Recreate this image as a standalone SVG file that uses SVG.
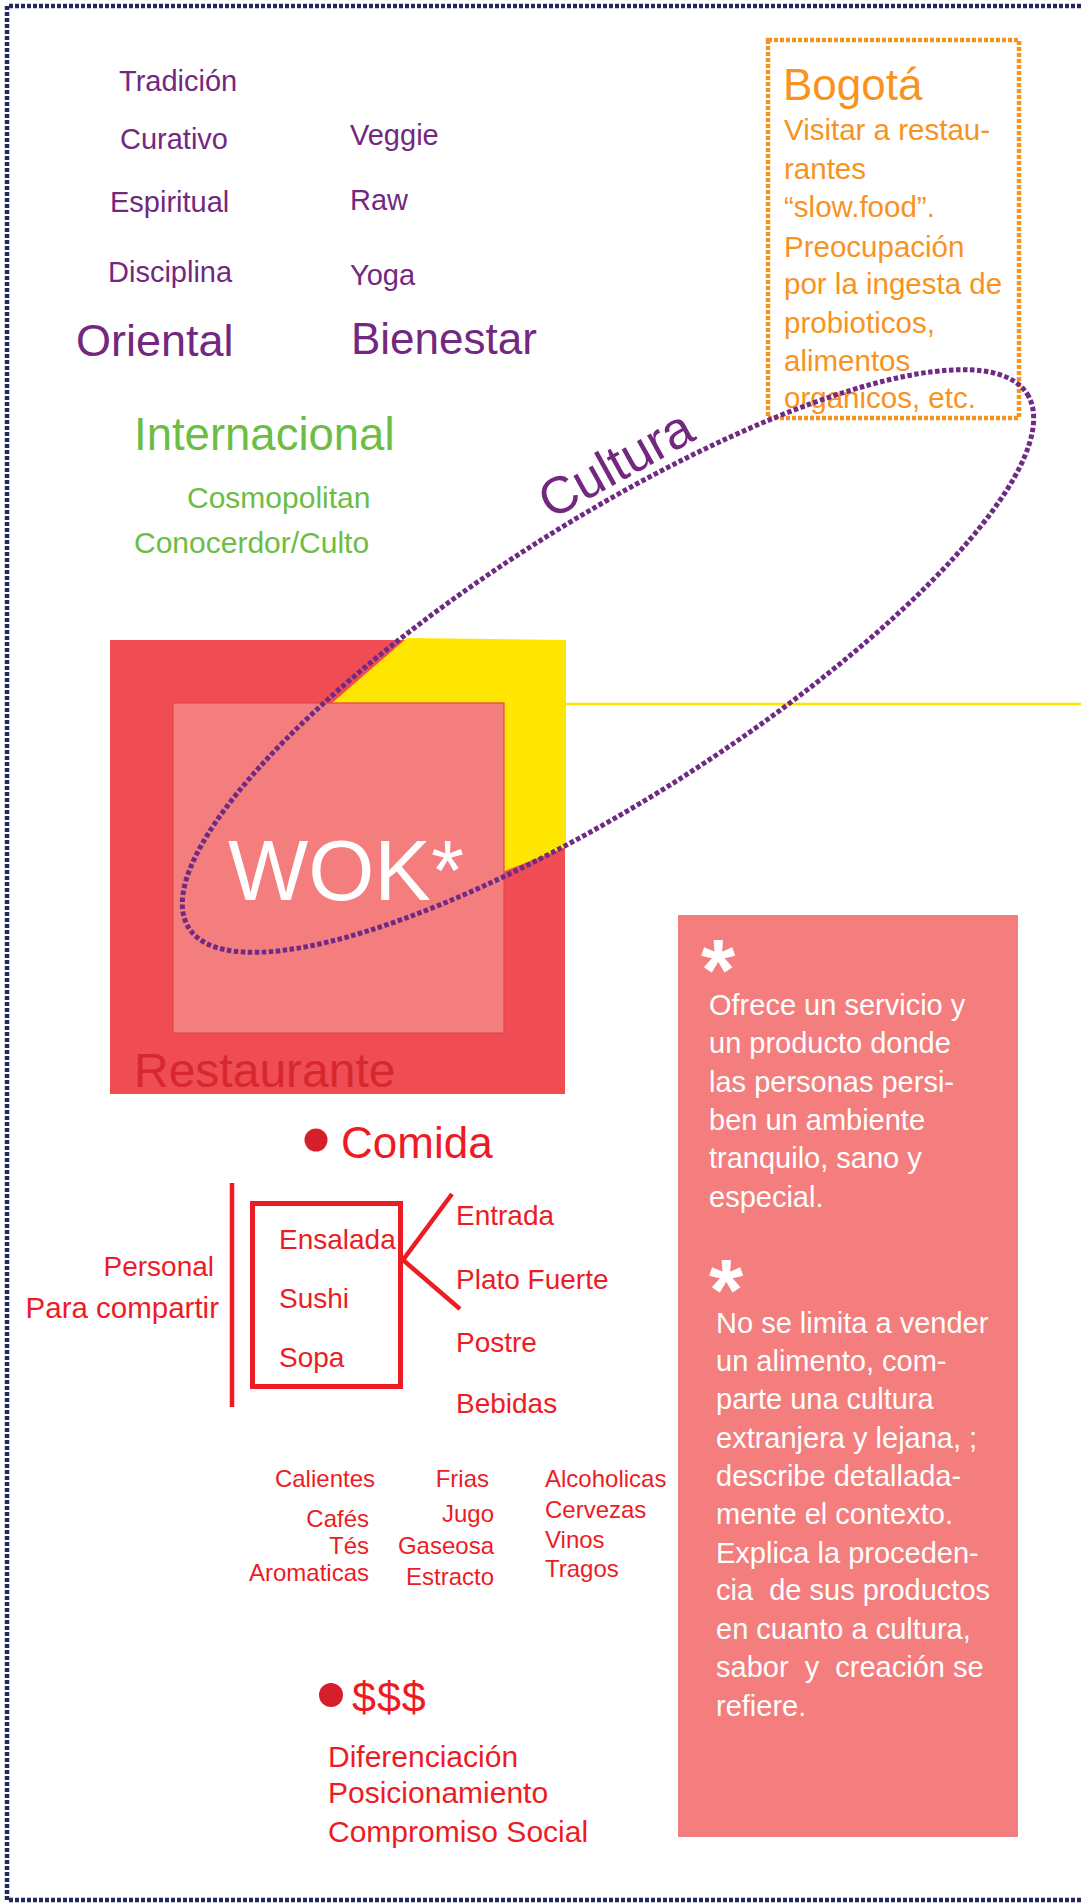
<svg xmlns="http://www.w3.org/2000/svg" width="1081" height="1904" viewBox="0 0 1081 1904">
<style>
text{font-family:"Liberation Sans",Arial,sans-serif}
.pu{fill:#73287f;font-size:29px}
.puB{fill:#73287f;font-size:44px}
.or{fill:#f7931e;font-size:29.5px}
.gr{fill:#6cbd45}
.rd{fill:#ed1c24}
.m{font-size:28px}
.d{font-size:24px}
.s{font-size:30px}
.wh{fill:#ffffff;font-size:29px}
.ast{fill:#ffffff;font-size:88px}
.e{text-anchor:end}
</style>
<rect width="1081" height="1904" fill="#ffffff"/>
<g id="border"><path d="M1081,6 H7 V1900 H1081" fill="none" stroke="#25285a" stroke-width="4.5" stroke-dasharray="4 2"/></g>

<g id="oriental">
<text class="pu" x="119" y="91">Tradición</text>
<text class="pu" x="120" y="149">Curativo</text>
<text class="pu" x="110" y="212">Espiritual</text>
<text class="pu" x="108" y="282">Disciplina</text>
<text class="puB" x="76" y="356" style="font-size:45px">Oriental</text>
</g>
<g id="bienestar">
<text class="pu" x="350" y="145">Veggie</text>
<text class="pu" x="350" y="210">Raw</text>
<text class="pu" x="350" y="285">Yoga</text>
<text class="puB" x="351" y="354">Bienestar</text>
</g>

<g id="bogota">
<rect x="768" y="40" width="251" height="378" fill="none" stroke="#f7931e" stroke-width="4.5" stroke-dasharray="4 2"/>
<text class="or" x="783" y="100" style="font-size:44px">Bogotá</text>
<text class="or" x="784" y="140">Visitar a restau-</text>
<text class="or" x="784" y="179">rantes</text>
<text class="or" x="784" y="217">“slow.food”.</text>
<text class="or" x="784" y="257">Preocupación</text>
<text class="or" x="784" y="294">por la ingesta de</text>
<text class="or" x="784" y="333">probioticos,</text>
<text class="or" x="784" y="371">alimentos</text>
<text class="or" x="784" y="408">organicos, etc.</text>
</g>

<g id="internacional">
<text class="gr" x="134" y="450" style="font-size:45.5px">Internacional</text>
<text class="gr" x="187" y="508" style="font-size:30px">Cosmopolitan</text>
<text class="gr" x="134" y="553" style="font-size:30px">Conocerdor/Culto</text>
</g>

<g id="connectors">
<line x1="566" y1="704" x2="1081" y2="704" stroke="#ffe600" stroke-width="2.5"/>
<line x1="232" y1="1183" x2="232" y2="1407" stroke="#ed1c24" stroke-width="4.5"/>
<polyline points="452,1194 403,1260 460,1309" fill="none" stroke="#ed1c24" stroke-width="4.5"/>
</g>

<g id="restaurante">
<rect x="110" y="640" width="455" height="454" fill="#ef4c53"/>
<polygon points="407,638 566,640 566,847 500,873 500,703 332,703" fill="#ffe600"/>
<rect x="173" y="703" width="331" height="330" fill="#f37e7d" stroke="#e8454c" stroke-width="1.2"/>
<text x="228" y="900" fill="#ffffff" style="font-size:85px">WOK*</text>
<text x="134" y="1087" fill="#d7282f" style="font-size:48px">Restaurante</text>
</g>

<g id="cultura">
<ellipse cx="608" cy="661" rx="497" ry="138" transform="rotate(-32.5 608 661)" fill="none" stroke="#6f2a85" stroke-width="5" stroke-dasharray="4.5 2.5"/>
<text transform="translate(551 520) rotate(-29)" fill="#73287f" style="font-size:52px">Cultura</text>
</g>

<g id="comida">
<circle cx="316" cy="1140" r="11.5" fill="#d71f2b"/>
<text class="rd" x="341" y="1158" style="font-size:44px">Comida</text>
<rect x="252.5" y="1203.5" width="148" height="183" fill="none" stroke="#ed1c24" stroke-width="5"/>
<text class="rd m" x="279" y="1249">Ensalada</text>
<text class="rd m" x="279" y="1308">Sushi</text>
<text class="rd m" x="279" y="1367">Sopa</text>
<text class="rd m e" x="214" y="1276">Personal</text>
<text class="rd e" x="219" y="1318" style="font-size:29.5px">Para compartir</text>
<text class="rd m" x="456" y="1225">Entrada</text>
<text class="rd m" x="456" y="1289">Plato Fuerte</text>
<text class="rd m" x="456" y="1352">Postre</text>
<text class="rd m" x="456" y="1413">Bebidas</text>
</g>

<g id="bebidas">
<text class="rd d e" x="375" y="1487">Calientes</text>
<text class="rd d e" x="369" y="1527">Cafés</text>
<text class="rd d e" x="369" y="1554">Tés</text>
<text class="rd d e" x="369" y="1581">Aromaticas</text>
<text class="rd d e" x="489" y="1487">Frias</text>
<text class="rd d e" x="494" y="1522">Jugo</text>
<text class="rd d e" x="494" y="1554">Gaseosa</text>
<text class="rd d e" x="494" y="1585">Estracto</text>
<text class="rd d" x="545" y="1487">Alcoholicas</text>
<text class="rd d" x="545" y="1518">Cervezas</text>
<text class="rd d" x="545" y="1548">Vinos</text>
<text class="rd d" x="545" y="1577">Tragos</text>
</g>

<g id="precio">
<circle cx="331" cy="1695" r="12" fill="#d71f2b"/>
<text class="rd" x="352" y="1712" style="font-size:43px;letter-spacing:1px">$$$</text>
<text class="rd s" x="328" y="1767">Diferenciación</text>
<text class="rd s" x="328" y="1803">Posicionamiento</text>
<text class="rd s" x="328" y="1842">Compromiso Social</text>
</g>

<g id="nota">
<rect x="678" y="915" width="340" height="922" fill="#f37e7d"/>
<text class="ast" x="701" y="1000" font-weight="bold">*</text>
<text class="wh" x="709" y="1015">Ofrece un servicio y</text>
<text class="wh" x="709" y="1053">un producto donde</text>
<text class="wh" x="709" y="1092">las personas persi-</text>
<text class="wh" x="709" y="1130">ben un ambiente</text>
<text class="wh" x="709" y="1168">tranquilo, sano y</text>
<text class="wh" x="709" y="1207">especial.</text>
<text class="ast" x="709" y="1320" font-weight="bold">*</text>
<text class="wh" x="716" y="1333">No se limita a vender</text>
<text class="wh" x="716" y="1371">un alimento, com-</text>
<text class="wh" x="716" y="1409">parte una cultura</text>
<text class="wh" x="716" y="1448">extranjera y lejana, ;</text>
<text class="wh" x="716" y="1486">describe detallada-</text>
<text class="wh" x="716" y="1524">mente el contexto.</text>
<text class="wh" x="716" y="1563">Explica la proceden-</text>
<text class="wh" x="716" y="1600" xml:space="preserve">cia  de sus productos</text>
<text class="wh" x="716" y="1639">en cuanto a cultura,</text>
<text class="wh" x="716" y="1677" xml:space="preserve">sabor  y  creación se</text>
<text class="wh" x="716" y="1716">refiere.</text>
</g>
</svg>
